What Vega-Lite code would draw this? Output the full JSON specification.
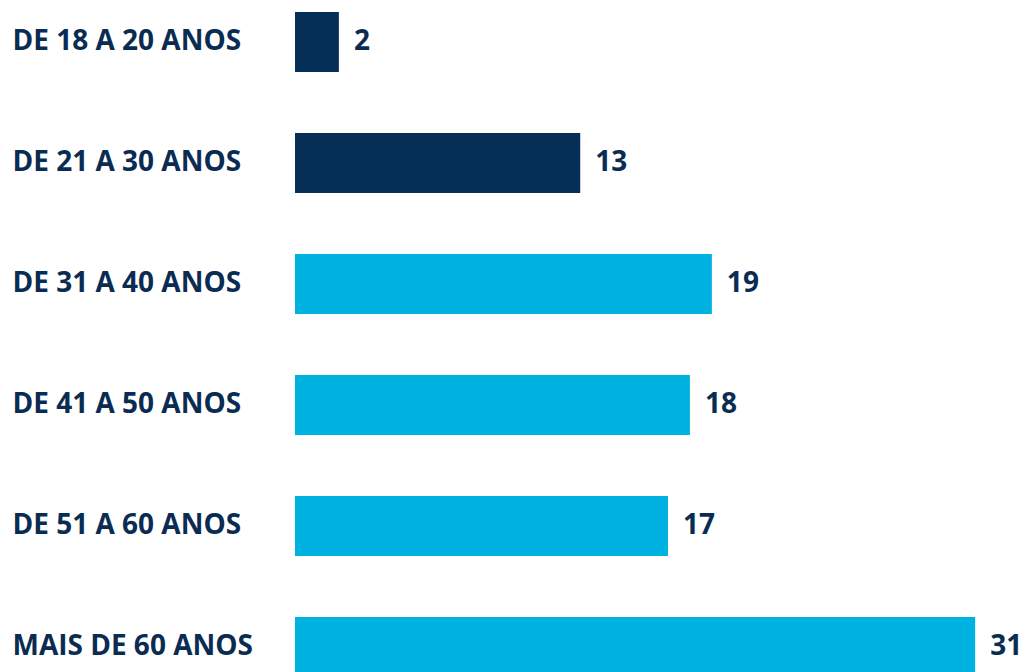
{
  "$schema": "https://vega.github.io/schema/vega-lite/v6.json",
  "autosize": {"type": "none"},
  "padding": {"left": 295, "top": 0, "right": 0, "bottom": 0},
  "width": 735,
  "height": 689,
  "background": "#ffffff",
  "config": {"view": {"stroke": null}, "font": "Open Sans"},
  "data": {"values": [
    {"faixa": "DE 18 A 20 ANOS", "valor": 2, "grupo": "jovem"},
    {"faixa": "DE 21 A 30 ANOS", "valor": 13, "grupo": "jovem"},
    {"faixa": "DE 31 A 40 ANOS", "valor": 19, "grupo": "demais"},
    {"faixa": "DE 41 A 50 ANOS", "valor": 18, "grupo": "demais"},
    {"faixa": "DE 51 A 60 ANOS", "valor": 17, "grupo": "demais"},
    {"faixa": "MAIS DE 60 ANOS", "valor": 31, "grupo": "demais"}
  ]},
  "encoding": {
    "y": {"field": "faixa", "type": "nominal", "sort": null,
      "scale": {"paddingInner": 0.504, "paddingOuter": 0.099},
      "axis": {"title": null, "domain": false, "ticks": false, "labelAlign": "left",
        "labelPadding": 283, "labelLimit": 400, "labelFont": "Open Sans", "labelFontSize": 28, "labelFontWeight": "bold",
        "labelColor": "#0b2c52", "labelBaseline": "middle"}},
    "x": {"field": "valor", "type": "quantitative",
      "scale": {"domain": [0, 33.5], "nice": false, "zero": true},
      "axis": null}
  },
  "layer": [
    {"mark": {"type": "bar"},
     "encoding": {"color": {"field": "grupo", "type": "nominal",
       "scale": {"domain": ["jovem", "demais"], "range": ["#062f58", "#00b2e1"]}, "legend": null}}},
    {"mark": {"type": "text", "align": "left", "baseline": "middle", "dx": 15,
       "font": "Open Sans", "fontSize": 28, "fontWeight": "bold", "color": "#0b2c52"},
     "encoding": {"text": {"field": "valor", "type": "quantitative"}}}
  ]
}
